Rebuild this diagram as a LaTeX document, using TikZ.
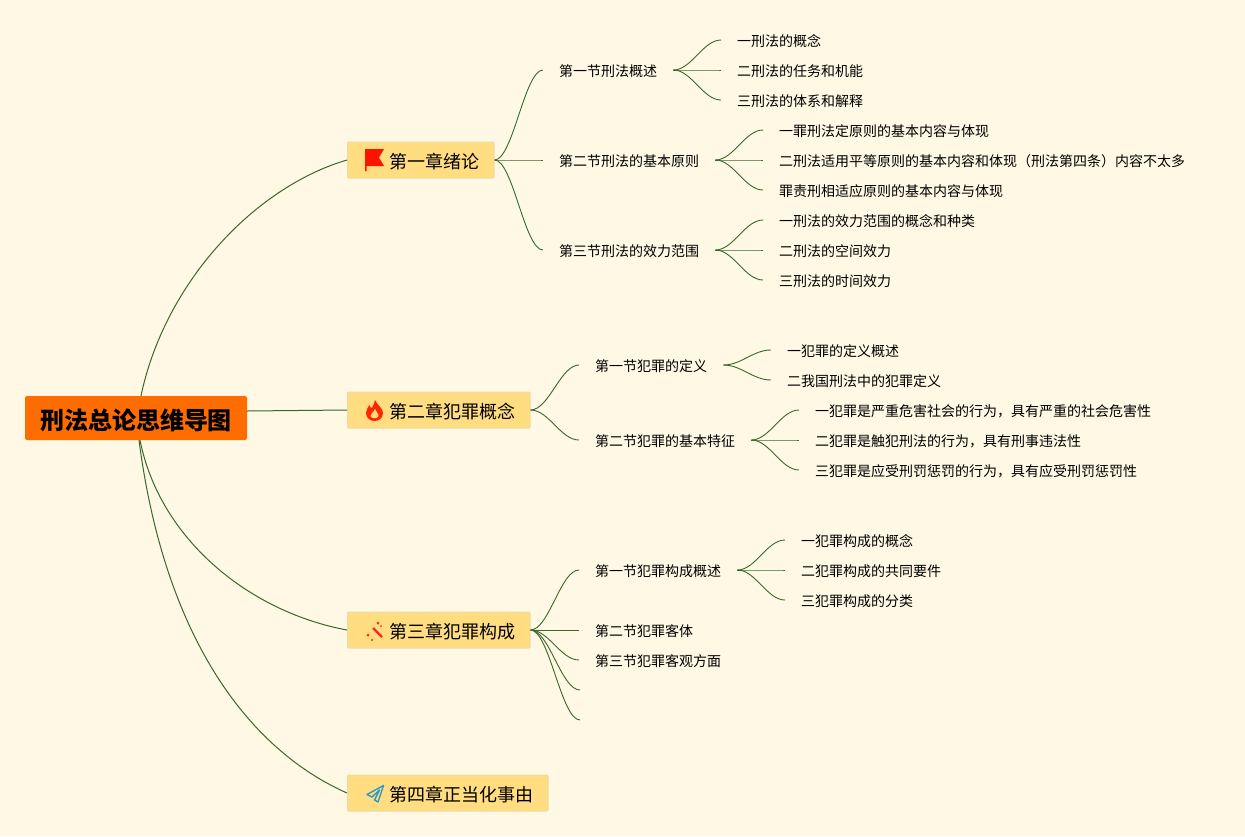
\documentclass[tikz,border=0pt]{standalone}
\usepackage{fontspec}
\setmainfont{Noto Sans CJK SC}
\usetikzlibrary{positioning,calc}
\definecolor{paper}{HTML}{FFF8E4}
\definecolor{branchgreen}{HTML}{38692A}
\definecolor{chapfill}{HTML}{FFDD80}
\definecolor{chapedge}{HTML}{EBDCA6}
\definecolor{rootfill}{HTML}{FF6D00}
\tikzset{
    rootnode/.style={fill=rootfill,rounded corners=2pt,inner xsep=15pt,minimum height=44pt,text height=25pt,text depth=3pt,font=\fontsize{24}{24}\selectfont\bfseries},
    chapnode/.style={fill=chapfill,draw=chapedge,line width=1pt,rounded corners=1pt,anchor=west,inner xsep=14.5pt,minimum height=36pt,text height=19pt,text depth=2.4pt,font=\fontsize{18}{18}\selectfont},
    textnode/.style={anchor=west,inner xsep=16pt,inner ysep=2pt,text height=14.6pt,text depth=2pt,font=\fontsize{14}{14}\selectfont},
    branch/.style={draw=branchgreen,line width=.9pt,to path={.. controls ($(\tikztostart)!.38!(\tikztotarget |- \tikztostart)$) and ($(\tikztotarget)!.38!(\tikztostart |- \tikztotarget)$) .. (\tikztotarget)}},
    arcline/.style={draw=branchgreen,line width=1pt}
}
\begin{document}
\begin{tikzpicture}[x=1pt,y=-1pt]
    \useasboundingbox[fill=paper] (0,0) rectangle (1245,836);
    \node[rootnode] (root) at (136,418) {刑法总论思维导图};
    \node[chapnode] (chapA) at (347,160) {\hspace*{27.5pt}第一章绪论};
    \node[chapnode] (chapB) at (347,410) {\hspace*{27.5pt}第二章犯罪概念};
    \node[chapnode] (chapC) at (347,630) {\hspace*{27.5pt}第三章犯罪构成};
    \node[chapnode] (chapD) at (347,793) {\hspace*{27.5pt}第四章正当化事由};
    % chapter one
    \node[textnode] (secAa) at (543,70) {第一节刑法概述};
    \node[textnode] (secAb) at (543,160) {第二节刑法的基本原则};
    \node[textnode] (secAc) at (543,250) {第三节刑法的效力范围};
    \node[textnode] (leafAaa) at (721,40) {一刑法的概念};
    \node[textnode] (leafAab) at (721,70) {二刑法的任务和机能};
    \node[textnode] (leafAac) at (721,100) {三刑法的体系和解释};
    \node[textnode] (leafAba) at (763,130) {一罪刑法定原则的基本内容与体现};
    \node[textnode] (leafAbb) at (763,160) {二刑法适用平等原则的基本内容和体现（刑法第四条）内容不太多};
    \node[textnode] (leafAbc) at (763,190) {罪责刑相适应原则的基本内容与体现};
    \node[textnode] (leafAca) at (763,220) {一刑法的效力范围的概念和种类};
    \node[textnode] (leafAcb) at (763,250) {二刑法的空间效力};
    \node[textnode] (leafAcc) at (763,280) {三刑法的时间效力};
    % chapter two
    \node[textnode] (secBa) at (579,365) {第一节犯罪的定义};
    \node[textnode] (secBb) at (579,440) {第二节犯罪的基本特征};
    \node[textnode] (leafBaa) at (771,350) {一犯罪的定义概述};
    \node[textnode] (leafBab) at (771,380) {二我国刑法中的犯罪定义};
    \node[textnode] (leafBba) at (799,410) {一犯罪是严重危害社会的行为，具有严重的社会危害性};
    \node[textnode] (leafBbb) at (799,440) {二犯罪是触犯刑法的行为，具有刑事违法性};
    \node[textnode] (leafBbc) at (799,470) {三犯罪是应受刑罚惩罚的行为，具有应受刑罚惩罚性};
    % chapter three
    \node[textnode] (secCa) at (579,570) {第一节犯罪构成概述};
    \node[textnode] (secCb) at (579,630) {第二节犯罪客体};
    \node[textnode] (secCc) at (579,660) {第三节犯罪客观方面};
    \coordinate (secCd) at (580,690);
    \coordinate (secCe) at (580,720);
    \node[textnode] (leafCaa) at (785,540) {一犯罪构成的概念};
    \node[textnode] (leafCab) at (785,570) {二犯罪构成的共同要件};
    \node[textnode] (leafCac) at (785,600) {三犯罪构成的分类};
    % root arcs
    \draw[arcline] ([xshift=5pt]root.north) .. controls (165,282) and (255,187) .. (chapA.west);
    \draw[arcline] ([yshift=7pt]root.east) -- (chapB.west);
    \draw[arcline] ([xshift=4pt]root.south) .. controls (160,540) and (250,612) .. (chapC.west);
    \draw[arcline] ([xshift=3pt]root.south) .. controls (165,640) and (250,750) .. (chapD.west);
    % branches
    \foreach \sec in {secAa,secAb,secAc} \draw[branch] (chapA.east) to (\sec.west);
    \foreach \sec in {secBa,secBb} \draw[branch] (chapB.east) to (\sec.west);
    \foreach \sec in {secCa,secCb,secCc} \draw[branch] (chapC.east) to (\sec.west);
    \draw[branch] (chapC.east) to (secCd);
    \draw[branch] (chapC.east) to (secCe);
    \foreach \leaf in {leafAaa,leafAab,leafAac} \draw[branch] (secAa.east) to (\leaf.west);
    \foreach \leaf in {leafAba,leafAbb,leafAbc} \draw[branch] (secAb.east) to (\leaf.west);
    \foreach \leaf in {leafAca,leafAcb,leafAcc} \draw[branch] (secAc.east) to (\leaf.west);
    \foreach \leaf in {leafBaa,leafBab} \draw[branch] (secBa.east) to (\leaf.west);
    \foreach \leaf in {leafBba,leafBbb,leafBbc} \draw[branch] (secBb.east) to (\leaf.west);
    \foreach \leaf in {leafCaa,leafCab,leafCac} \draw[branch] (secCa.east) to (\leaf.west);
    % icons
    \fill[red!85!orange] (365,149) -- (384,149) -- (379,157.5) -- (384,166) -- (366.5,166) -- (366.5,171) -- (365,171) -- cycle;
    \fill[orange!30!red] (375,400) .. controls (377,405) and (383,408) .. (383,413) .. controls (383,418) and (379,421) .. (374.5,421) .. controls (370,421) and (366,418) .. (366,413) .. controls (366,410) and (368,407) .. (369.5,405) .. controls (370,407) and (371,408) .. (372,408) .. controls (373,405) and (375,403) .. (375,400) -- cycle;
    \fill[chapfill] (375,409) .. controls (376,412) and (379,414) .. (378.5,416) .. controls (378,419) and (371,419) .. (370.5,416) .. controls (370.5,414) and (373,413) .. (375,409) -- cycle;
    \draw[red!80!pink,line width=2.2pt] (373,628) -- (382,637);
    \fill[red!80!pink] (378,623) circle (1.5pt) (368,635) circle (1.5pt) (372,640) circle (1.2pt) (381,626) circle (1pt);
    \draw[cyan!55!teal,line width=1.4pt,line join=round] (383.5,785.5) -- (367,794.5) -- (372,797) -- (379.5,790) -- (374.5,800) -- (378,802) -- cycle;
\end{tikzpicture}
\end{document}
